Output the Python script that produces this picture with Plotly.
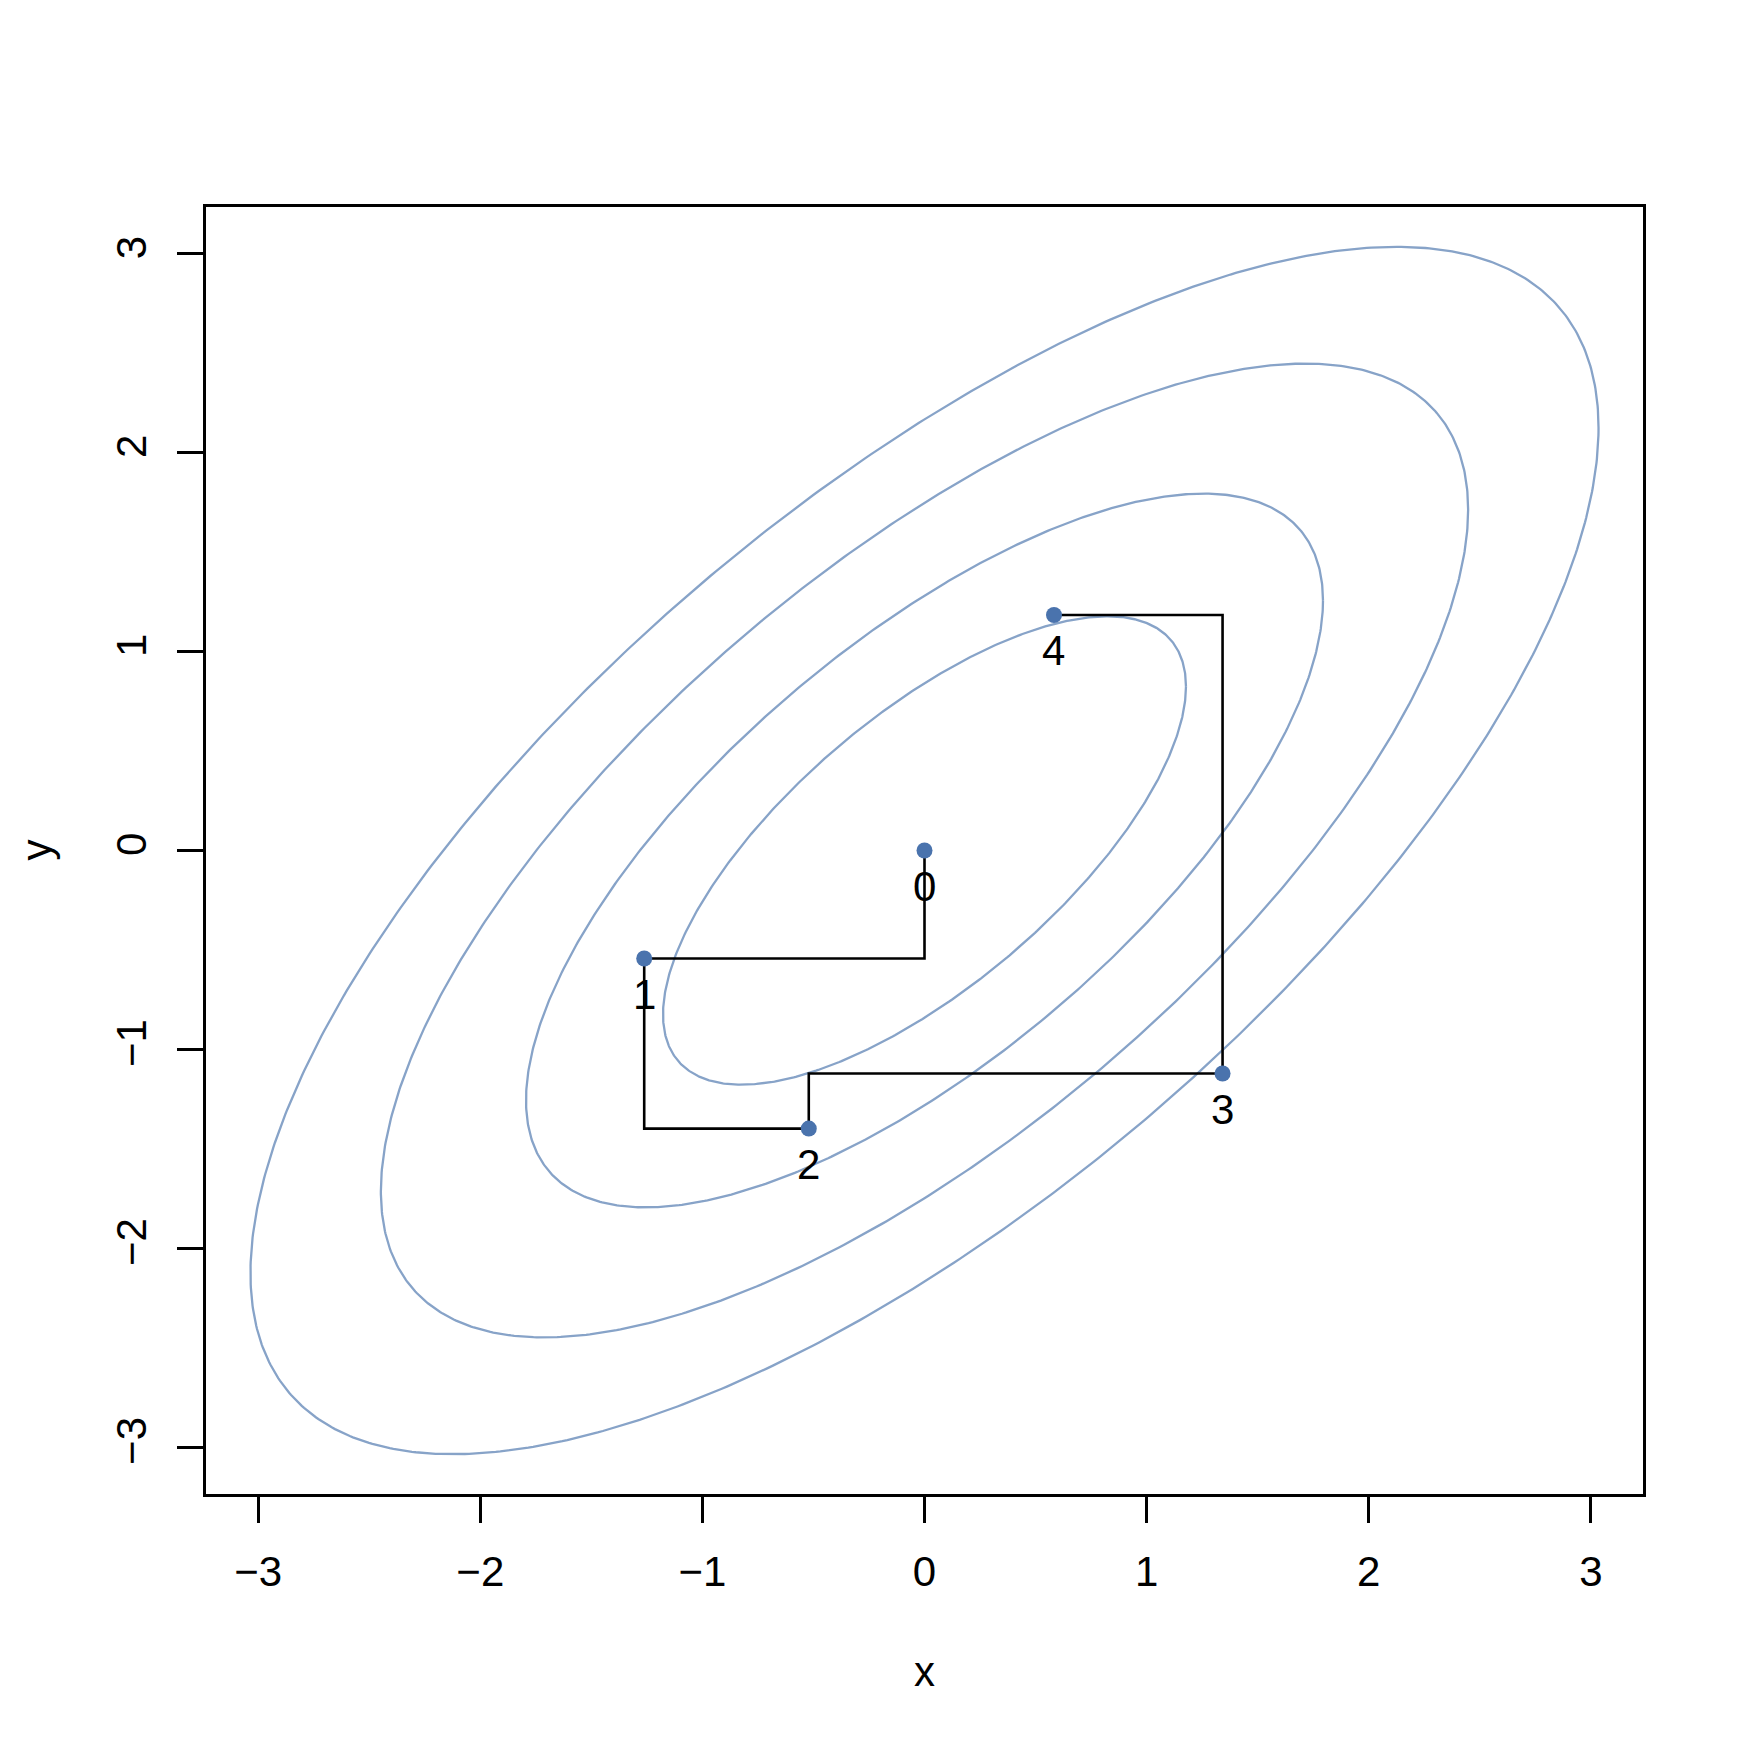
import numpy as np
import plotly.graph_objects as go

# ---- data ----
rho = 0.7
contour_probs = [0.50, 0.80, 0.95, 0.99]          # coverage of contour ellipses
contour_d2 = [1.386, 3.219, 5.991, 9.210]         # chi-square(2) quantiles of those
gibbs_x = [0.0, -1.262, -0.521, 1.342, 0.583]
gibbs_y = [0.0, -0.543, -1.398, -1.121, 1.184]
step_labels = ["0", "1", "2", "3", "4"]
tick_vals = [-3, -2, -1, 0, 1, 2, 3]

CONTOUR_COL = "#87a3c8"
POINT_COL = "#4a73ad"
FONT = "Liberation Sans, Arial, Helvetica, sans-serif"
FS = 42

fig = go.Figure()

t = np.linspace(0, 2 * np.pi, 721)
for d2 in contour_d2:
    r = np.sqrt(d2)
    ex = r * np.cos(t)
    ey = r * (rho * np.cos(t) + np.sqrt(1 - rho ** 2) * np.sin(t))
    fig.add_trace(go.Scatter(x=ex, y=ey, mode="lines",
                             line=dict(color=CONTOUR_COL, width=2.3),
                             hoverinfo="skip", showlegend=False))

# Gibbs path (y updated first, then x)
fig.add_trace(go.Scatter(x=gibbs_x, y=gibbs_y, mode="lines",
                         line=dict(color="black", width=2.6, shape="vh"),
                         showlegend=False))
fig.add_trace(go.Scatter(x=gibbs_x, y=gibbs_y, mode="markers",
                         marker=dict(color=POINT_COL, size=16),
                         showlegend=False))

annotations = []
for xi, yi, lab in zip(gibbs_x, gibbs_y, step_labels):
    annotations.append(dict(text=lab, x=xi, y=yi, xref="x", yref="y",
                            yshift=-36, showarrow=False,
                            xanchor="center", yanchor="middle",
                            font=dict(family=FONT, size=FS, color="black")))

axis_common = dict(
    range=[-3.235, 3.235], tickvals=tick_vals, ticks="outside", ticklen=26,
    tickwidth=2.6, tickcolor="black", showline=True, linecolor="black",
    linewidth=2.6, mirror=True, showgrid=False, zeroline=False,
    tickfont=dict(family=FONT, size=FS, color="black"),
)

annotations += [
    dict(text="x", xref="paper", yref="paper", x=0.5, y=0,
         yanchor="middle", yshift=-177, showarrow=False,
         font=dict(family=FONT, size=FS, color="black")),
    dict(text="y", xref="paper", yref="paper", x=0, y=0.5,
         xanchor="center", xshift=-170, textangle=-90, showarrow=False,
         font=dict(family=FONT, size=FS, color="black")),
]

fig.update_layout(
    width=1750, height=1750,
    paper_bgcolor="white", plot_bgcolor="white",
    margin=dict(l=198, r=115, t=199, b=264),
    xaxis=dict(**axis_common, ticklabelstandoff=13),
    yaxis=dict(**axis_common, tickangle=-90, ticklabelstandoff=14),
    annotations=annotations,
)

fig.write_html("out.html")
